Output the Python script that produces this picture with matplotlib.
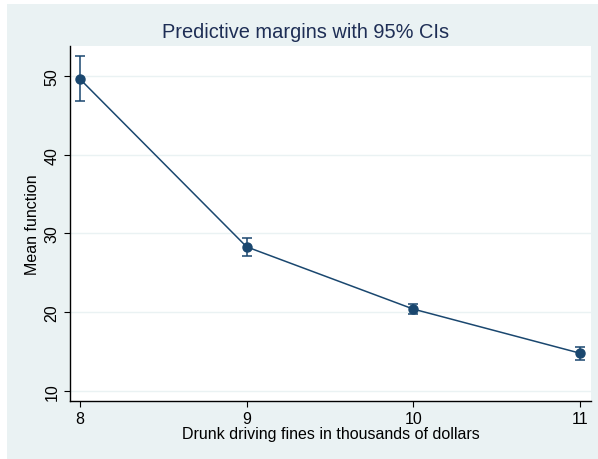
import numpy as np
import matplotlib.pyplot as plt
from matplotlib.patches import Rectangle

plt.rcParams['font.family'] = ['Liberation Sans', 'DejaVu Sans']

## Predictive margins

fines = [8, 9, 10, 11]
margins = [49.6, 28.3, 20.4, 14.8]
ci_low = [46.8, 27.2, 19.8, 13.9]
ci_high = [52.5, 29.4, 21.0, 15.6]

navy = "#1a476f"
bg = "#eaf2f3"

fig = plt.figure(figsize=(5.98, 4.60), dpi=100)
fig.patch.set_facecolor("white")
fig.patches.append(Rectangle((7 / 598, 0), 1, 1 - 5 / 460, transform=fig.transFigure,
                             facecolor=bg, edgecolor="none", zorder=-10))

ax = fig.add_axes([70 / 598, 1 - 402 / 460, 521 / 598, 355 / 460])
ax.set_facecolor("white")

y = np.array(margins)
yerr = [y - np.array(ci_low), np.array(ci_high) - y]
ax.errorbar(fines, margins, yerr=yerr, color=navy, lw=1.1, marker="o", ms=6.5,
            capsize=3.5, elinewidth=1.1, capthick=1.1, zorder=3)

ax.set_xlim(7.94, 11.066)
ax.set_ylim(8.73, 53.8)
ax.set_xticks(fines)
ax.set_yticks([10, 20, 30, 40, 50])
ax.grid(axis="y", color=bg, lw=1.0)
ax.set_axisbelow(True)
for s in ["top", "right"]:
    ax.spines[s].set_visible(False)
for s in ["left", "bottom"]:
    ax.spines[s].set_linewidth(1.0)
ax.tick_params(axis="both", length=4.5, width=0.8, labelsize=11.5, pad=3)
plt.setp(ax.get_yticklabels(), rotation=90, va="center")

ax.set_xlabel("Drunk driving fines in thousands of dollars", fontsize=11.5, labelpad=0)
ax.set_ylabel("Mean function", fontsize=11.5, labelpad=3)
fig.text(306 / 598, 1 - 32 / 460, "Predictive margins with 95% CIs", ha="center", va="center",
         fontsize=14.4, color="#1e2e55")

fig.savefig("out.png", dpi=100)
